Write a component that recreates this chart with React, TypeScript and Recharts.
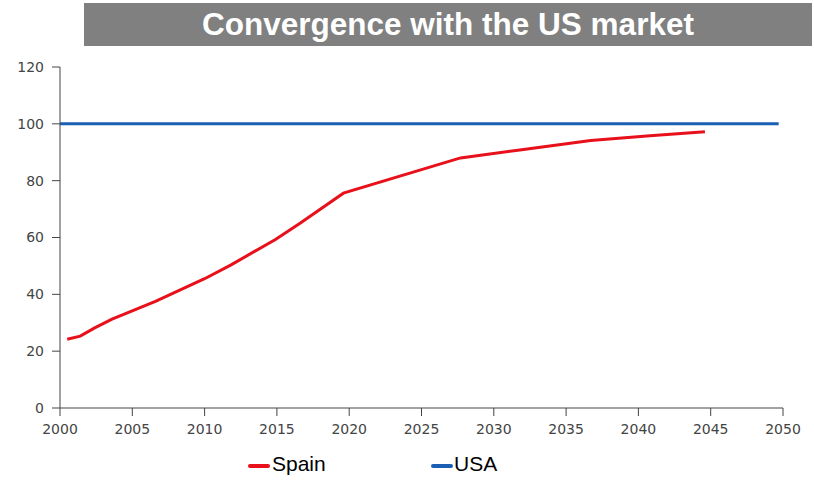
import React from 'react';
import { LineChart, Line, XAxis, YAxis } from 'recharts';

const spainYears = [2000.5, 2001.4, 2002.4, 2003.6, 2006.6, 2010, 2011.8, 2014.9, 2016.6, 2019.6, 2027.7, 2031.8, 2036.7, 2040.8, 2044.6];
const spainValues = [24.2, 25.3, 28.2, 31.3, 37.5, 45.5, 50.3, 59.3, 65.0, 75.6, 88, 90.8, 94.1, 95.8, 97.2];
const usaYears = [2000, 2049.7];
const usaValues = [100, 100];
const xTicks = [2000, 2005, 2010, 2015, 2020, 2025, 2030, 2035, 2040, 2045, 2050];
const yTicks = [0, 20, 40, 60, 80, 100, 120];
const seriesNames = ['Spain', 'USA'];
const seriesColors = ['#e8101a', '#1a5fb4'];

const spainData = spainYears.map((x, i) => ({ x, y: spainValues[i] }));
const usaData = usaYears.map((x, i) => ({ x, y: usaValues[i] }));

const axisColor = '#444';
const tickStyle = { fontFamily: 'DejaVu Sans', fontSize: 14, fill: '#444' };

export default function App() {
  return (
    <div style={{ position: 'absolute', left: 0, top: 0, width: 814, height: 480, background: '#fff' }}>
      <div style={{ position: 'absolute', left: 84, top: 3, width: 728, height: 43, background: '#808080', color: '#fff', fontFamily: 'Liberation Sans, Arial', fontWeight: 'bold', fontSize: 31.5, lineHeight: '43px', textAlign: 'center' }}>
        Convergence with the US market
      </div>
      <LineChart width={814} height={480} margin={{ top: 67, right: 31, left: 20, bottom: 42 }}>
        <XAxis
          type="number"
          dataKey="x"
          domain={[2000, 2050]}
          ticks={xTicks}
          allowDuplicatedCategory={false}
          stroke={axisColor}
          tickSize={8}
          tickMargin={8}
          tick={tickStyle}
          height={30}
        />
        <YAxis
          type="number"
          dataKey="y"
          domain={[0, 120]}
          ticks={yTicks}
          stroke={axisColor}
          tickSize={8}
          tickMargin={8}
          tick={tickStyle}
          width={40}
        />
        <Line data={usaData} dataKey="y" name={seriesNames[1]} stroke={seriesColors[1]} strokeWidth={3} dot={false} isAnimationActive={false} />
        <Line data={spainData} dataKey="y" name={seriesNames[0]} stroke={seriesColors[0]} strokeWidth={3} dot={false} type="linear" isAnimationActive={false} />
      </LineChart>
      <div style={{ position: 'absolute', left: 0, top: 452, width: 814, height: 28, fontFamily: 'Liberation Sans, Arial', fontSize: 21, color: '#000' }}>
        <div style={{ position: 'absolute', left: 248, top: 12, width: 22, height: 4, background: seriesColors[0], borderRadius: 2 }} />
        <div style={{ position: 'absolute', left: 272, top: 0 }}>{seriesNames[0]}</div>
        <div style={{ position: 'absolute', left: 431, top: 12, width: 22, height: 4, background: seriesColors[1], borderRadius: 2 }} />
        <div style={{ position: 'absolute', left: 454, top: 0 }}>{seriesNames[1]}</div>
      </div>
    </div>
  );
}
